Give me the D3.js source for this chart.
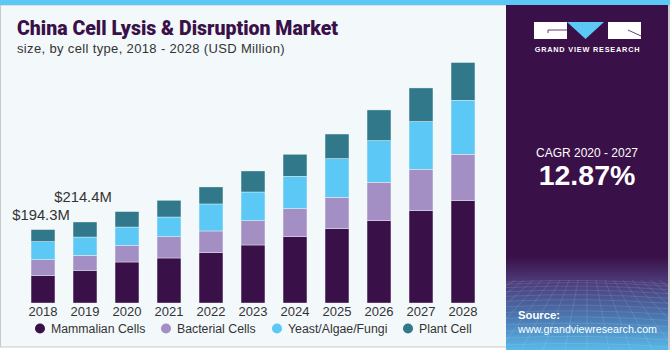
<!DOCTYPE html>
<html>
<head>
<meta charset="utf-8">
<script src="https://cdn.jsdelivr.net/npm/d3@7"></script>
<style>
  html, body { margin: 0; padding: 0; background: #ffffff; }
  svg { display: block; font-family: "Liberation Sans", Arial, sans-serif; }
</style>
</head>
<body>
<svg id="chart" width="670" height="350"></svg>
<script>
// values (USD Million)
const years = ["2018", "2019", "2020", "2021", "2022", "2023", "2024", "2025", "2026", "2027", "2028"];
const mammalian = [72.5, 86.5, 108.5, 119.1, 133.4, 153.5, 175.8, 196.9, 218.1, 244.6, 271.1];
const bacterial = [42.4, 39.7, 44.2, 56.6, 57.2, 64.6, 74.1, 82.8, 101.4, 109.3, 122.6];
const yeast = [47.6, 48.4, 48.4, 51.9, 71.5, 75.7, 85.5, 102.4, 110.4, 126.3, 142.9];
const plant = [31.8, 39.8, 40.8, 44.2, 45.0, 55.6, 58.2, 65.1, 81.0, 88.9, 99.8];
const seriesNames = ["Mammalian Cells", "Bacterial Cells", "Yeast/Algae/Fungi", "Plant Cell"];
const seriesColors = ["#3a1048", "#a48fc4", "#5bc8f5", "#30788a"];
const valueLabels = [{ year: "2018", text: "$194.3M", lift: 10 }, { year: "2019", text: "$214.4M", lift: 20 }];

const rows = years.map((y, i) => ({
  year: y,
  "Mammalian Cells": mammalian[i],
  "Bacterial Cells": bacterial[i],
  "Yeast/Algae/Fungi": yeast[i],
  "Plant Cell": plant[i]
}));

const svg = d3.select("#chart");
const purple = "#3a1048";

// background of left panel
svg.append("rect").attr("x", 0).attr("y", 0).attr("width", 670).attr("height", 350).attr("fill", "#ffffff");
svg.append("rect").attr("x", 0.5).attr("y", 5).attr("width", 506).attr("height", 342)
  .attr("fill", "#f3f8fb").attr("stroke", "#c9c9c9").attr("stroke-width", 1);
svg.append("rect").attr("x", 0).attr("y", 0).attr("width", 670).attr("height", 5).attr("fill", "#5bc8f5");

// titles
svg.append("text").attr("x", 17).attr("y", 35)
  .style("font-family", "Roboto, 'Liberation Sans', sans-serif")
  .style("font-weight", 900).style("font-size", "19.5px").attr("fill", purple)
  .text("China Cell Lysis & Disruption Market");
svg.append("text").attr("x", 17).attr("y", 53)
  .style("font-size", "13px").style("letter-spacing", "0.35px").attr("fill", "#333")
  .text("size, by cell type, 2018 - 2028 (USD Million)");

// scales
const x = d3.scaleBand().domain(years).range([22, 484]).paddingInner(0.43).paddingOuter(0.215);
const y = d3.scaleLinear().domain([0, 700]).range([303, 38.5]);
const color = d3.scaleOrdinal().domain(seriesNames).range(seriesColors);

const stacked = d3.stack().keys(seriesNames)(rows);

svg.append("g").selectAll("g")
  .data(stacked)
  .join("g")
  .attr("fill", d => color(d.key))
  .selectAll("rect")
  .data(d => d)
  .join("rect")
  .attr("x", d => x(d.data.year))
  .attr("y", d => y(d[1]))
  .attr("width", x.bandwidth())
  .attr("height", d => y(d[0]) - y(d[1]))
  .attr("stroke", "#f3f8fb")
  .attr("stroke-width", 0.4);

// year axis
const xAxis = svg.append("g").attr("transform", "translate(0,303)")
  .call(d3.axisBottom(x).tickSize(0).tickPadding(4));
xAxis.select(".domain").remove();
xAxis.selectAll("text").style("font-size", "13px").style("font-family", "'Liberation Sans', Arial, sans-serif").attr("fill", "#333");

// value labels
const totals = rows.map(r => seriesNames.reduce((s, k) => s + r[k], 0));
svg.append("g").selectAll("text")
  .data(valueLabels)
  .join("text")
  .attr("x", d => x(d.year) + x.bandwidth() / 2 - 2)
  .attr("y", d => y(totals[years.indexOf(d.year)]) - d.lift)
  .attr("text-anchor", "middle")
  .style("font-size", "14.8px").attr("fill", "#333")
  .text(d => d.text);

// legend
const legendX = [40, 166, 277, 408];
const legend = svg.append("g").selectAll("g")
  .data(seriesNames)
  .join("g")
  .attr("transform", (d, i) => `translate(${legendX[i]},328.5)`);
legend.append("circle").attr("r", 5).attr("fill", d => color(d));
legend.append("text").attr("x", 11).attr("y", 4.3)
  .style("font-size", "12.3px").attr("fill", "#333").text(d => d);

// right panel
const defs = svg.append("defs");
const grad = defs.append("linearGradient").attr("id", "panelGrad")
  .attr("x1", 0).attr("y1", 0).attr("x2", 0).attr("y2", 1);
grad.append("stop").attr("offset", "0%").attr("stop-color", purple);
grad.append("stop").attr("offset", "73%").attr("stop-color", purple);
grad.append("stop").attr("offset", "80%").attr("stop-color", "#4b3a78");
grad.append("stop").attr("offset", "90%").attr("stop-color", "#4a74ae");
grad.append("stop").attr("offset", "100%").attr("stop-color", "#58b9e8");
defs.append("clipPath").attr("id", "panelClip")
  .append("rect").attr("x", 506).attr("y", 5).attr("width", 162).attr("height", 345);

const panel = svg.append("g");
panel.append("rect").attr("x", 506).attr("y", 5).attr("width", 162).attr("height", 345).attr("fill", "url(#panelGrad)");

// faint perspective grid at the bottom
const grid = panel.append("g").attr("clip-path", "url(#panelClip)")
  .attr("stroke", "#ffffff").attr("stroke-opacity", 0.16).attr("stroke-width", 0.7).attr("fill", "none");
d3.range(0, 16).forEach(i => {
  const yy = 282 + Math.pow(i, 1.35) * 2.2;
  grid.append("path").attr("d", `M506,${yy} Q587,${yy - 4} 668,${yy + 2}`);
});
d3.range(-12, 13).forEach(i => {
  grid.append("line").attr("x1", 587 + i * 9).attr("y1", 280).attr("x2", 587 + i * 22).attr("y2", 350);
});
panel.append("rect").attr("x", 668).attr("y", 5).attr("width", 2).attr("height", 345).attr("fill", "#c9c9c9");

// logo
const logo = panel.append("g");
logo.append("rect").attr("x", 534).attr("y", 22).attr("width", 33).attr("height", 17).attr("fill", "#ffffff");
logo.append("path").attr("d", "M567,22 L604,22 L585.5,39 Z").attr("fill", "#5bc8f5");
logo.append("rect").attr("x", 608).attr("y", 22).attr("width", 33).attr("height", 17).attr("fill", "#ffffff");
logo.append("path").attr("d", "M548,33 L548,30 L567,30").attr("stroke", purple).attr("stroke-width", 0.8).attr("fill", "none");
logo.append("path").attr("d", "M628,30 L641,36").attr("stroke", purple).attr("stroke-width", 0.8).attr("fill", "none");
logo.append("text").attr("x", 587.5).attr("y", 52).attr("text-anchor", "middle")
  .style("font-size", "7.3px").style("font-weight", "bold").style("letter-spacing", "0.8px")
  .attr("fill", "#ffffff").text("GRAND VIEW RESEARCH");

panel.append("text").attr("x", 587).attr("y", 157).attr("text-anchor", "middle")
  .style("font-size", "12px").attr("fill", "#ffffff").text("CAGR 2020 - 2027");
panel.append("text").attr("x", 587).attr("y", 185).attr("text-anchor", "middle")
  .style("font-size", "28.5px").style("font-weight", "bold").attr("fill", "#ffffff").text("12.87%");

panel.append("text").attr("x", 518).attr("y", 319)
  .style("font-size", "11.3px").style("font-weight", "bold").attr("fill", "#ffffff").text("Source:");
panel.append("text").attr("x", 518).attr("y", 333)
  .style("font-size", "10.7px").attr("fill", "#ffffff").text("www.grandviewresearch.com");
</script>
</body>
</html>
